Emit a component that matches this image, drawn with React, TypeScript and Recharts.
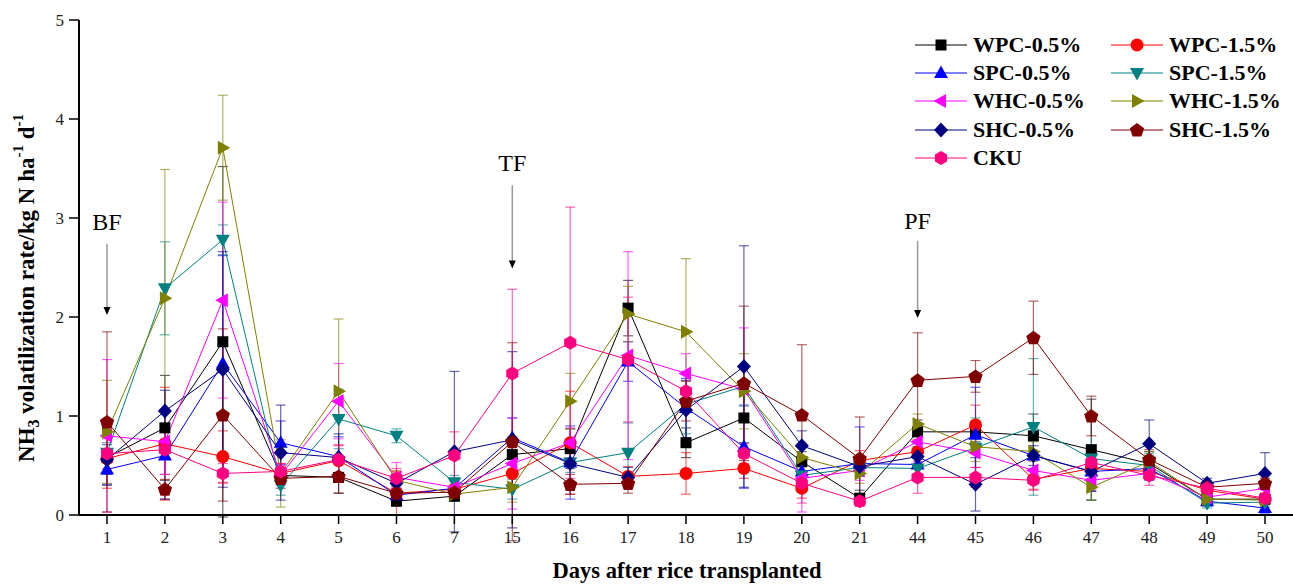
import React from 'react';
import { LineChart, Line, XAxis, YAxis, ErrorBar, Legend, ReferenceLine, ReferenceDot, Label } from 'recharts';

const FONT = '"Liberation Serif", "Times New Roman", serif';

const days = ['1', '2', '3', '4', '5', '6', '7', '15', '16', '17', '18', '19', '20', '21', '44', '45', '46', '47', '48', '49', '50'];

const wpc05 = [0.58, 0.88, 1.75, 0.40, 0.38, 0.14, 0.19, 0.61, 0.67, 2.09, 0.73, 0.98, 0.54, 0.17, 0.84, 0.84, 0.80, 0.66, 0.52, 0.16, 0.16];
const wpc05Err = [0.28, 0.53, 1.77, 0.06, 0.16, 0.05, 0.05, 0.18, 0.2, 0.28, 0.15, 0.25, 0.1, 0.08, 0.12, 0.1, 0.22, 0.51, 0.12, 0.05, 0.05];
const wpc15 = [0.57, 0.72, 0.59, 0.42, 0.55, 0.22, 0.26, 0.42, 0.73, 0.39, 0.42, 0.47, 0.27, 0.55, 0.64, 0.91, 0.36, 0.47, 0.44, 0.25, 0.16];
const wpc15Err = [0.3, 0.57, 0.26, 0.1, 0.15, 0.22, 0.05, 0.15, 0.52, 0.1, 0.21, 0.1, 0.1, 0.1, 0.12, 0.2, 0.1, 0.1, 0.08, 0.05, 0.05];
const spc05 = [0.46, 0.60, 1.53, 0.73, 0.59, 0.20, 0.27, 0.78, 0.53, 1.55, 1.08, 0.69, 0.44, 0.52, 0.51, 0.81, 0.60, 0.44, 0.47, 0.14, 0.07];
const spc05Err = [0.15, 0.44, 1.09, 0.22, 0.2, 0.05, 0.1, 0.2, 0.37, 0.2, 0.3, 0.42, 0.08, 0.37, 0.1, 0.48, 0.15, 0.2, 0.12, 0.05, 0.05];
const spc15 = [0.63, 2.29, 2.78, 0.30, 0.97, 0.80, 0.33, 0.26, 0.53, 0.63, 1.12, 1.30, 0.40, 0.48, 0.47, 0.68, 0.89, 0.57, 0.50, 0.12, 0.13];
const spc15Err = [0.1, 0.47, 0.15, 0.1, 0.3, 0.07, 0.07, 0.1, 0.1, 0.3, 0.3, 0.2, 0.1, 0.05, 0.1, 0.3, 0.69, 0.42, 0.12, 0.05, 0.05];
const whc05 = [0.80, 0.74, 2.17, 0.40, 1.15, 0.38, 0.28, 0.52, 0.73, 1.61, 1.43, 1.27, 0.37, 0.45, 0.74, 0.63, 0.45, 0.35, 0.42, 0.18, 0.27];
const whc05Err = [0.77, 0.33, 0.99, 0.1, 0.38, 0.15, 0.07, 0.46, 0.15, 1.05, 0.2, 0.62, 0.34, 0.1, 0.1, 0.15, 0.1, 0.1, 0.05, 0.05, 0.05];
const whc15 = [0.84, 2.19, 3.71, 0.42, 1.25, 0.35, 0.21, 0.28, 1.15, 2.03, 1.85, 1.25, 0.58, 0.42, 0.92, 0.69, 0.64, 0.28, 0.54, 0.16, 0.15];
const whc15Err = [0.52, 1.30, 0.53, 0.34, 0.73, 0.1, 0.05, 0.15, 0.28, 0.28, 0.74, 0.38, 0.1, 0.1, 0.1, 0.15, 0.1, 0.13, 0.1, 0.05, 0.05];
const shc05 = [0.56, 1.05, 1.47, 0.63, 0.58, 0.32, 0.64, 0.76, 0.52, 0.38, 1.06, 1.50, 0.70, 0.49, 0.59, 0.31, 0.60, 0.44, 0.72, 0.32, 0.42];
const shc05Err = [0.15, 0.21, 1.19, 0.48, 0.24, 0.05, 0.81, 0.89, 0.22, 0.1, 0.3, 1.22, 0.15, 0.1, 0.1, 0.27, 0.1, 0.2, 0.24, 0.05, 0.21];
const shc15 = [0.94, 0.26, 1.01, 0.37, 0.39, 0.22, 0.23, 0.74, 0.31, 0.32, 1.15, 1.33, 1.01, 0.57, 1.36, 1.40, 1.79, 1.00, 0.56, 0.28, 0.32];
const shc15Err = [0.91, 0.1, 0.87, 0.1, 0.17, 0.05, 0.05, 1.0, 0.1, 0.1, 0.2, 0.78, 0.71, 0.42, 0.48, 0.16, 0.37, 0.2, 0.1, 0.05, 0.05];
const cku = [0.62, 0.66, 0.42, 0.44, 0.56, 0.37, 0.60, 1.43, 1.74, 1.57, 1.25, 0.62, 0.32, 0.14, 0.38, 0.38, 0.35, 0.53, 0.40, 0.27, 0.17];
const ckuErr = [0.15, 0.25, 0.1, 0.08, 0.15, 0.1, 0.24, 0.85, 1.37, 0.63, 0.2, 0.1, 0.2, 0.05, 0.16, 0.1, 0.1, 0.1, 0.1, 0.05, 0.05];

const yTicks = [0, 1, 2, 3, 4, 5];

const annLabels = ['BF', 'TF', 'PF'];
const annDays = ['1', '15', '44'];
const annTextY = [2.88, 3.47, 2.89];
const annTop = [2.74, 3.33, 2.77];
const annTip = [2.02, 2.49, 1.99];

type Shape = 'square' | 'circle' | 'up' | 'down' | 'left' | 'right' | 'diamond' | 'pentagon' | 'hexagon';

const series: { key: string; name: string; color: string; shape: Shape; values: number[]; errs: number[] }[] = [
  { key: 'wpc05', name: 'WPC-0.5%', color: '#000000', shape: 'square', values: wpc05, errs: wpc05Err },
  { key: 'wpc15', name: 'WPC-1.5%', color: '#FF0000', shape: 'circle', values: wpc15, errs: wpc15Err },
  { key: 'spc05', name: 'SPC-0.5%', color: '#0000FF', shape: 'up', values: spc05, errs: spc05Err },
  { key: 'spc15', name: 'SPC-1.5%', color: '#008080', shape: 'down', values: spc15, errs: spc15Err },
  { key: 'whc05', name: 'WHC-0.5%', color: '#FF00FF', shape: 'left', values: whc05, errs: whc05Err },
  { key: 'whc15', name: 'WHC-1.5%', color: '#808000', shape: 'right', values: whc15, errs: whc15Err },
  { key: 'shc05', name: 'SHC-0.5%', color: '#000080', shape: 'diamond', values: shc05, errs: shc05Err },
  { key: 'shc15', name: 'SHC-1.5%', color: '#800000', shape: 'pentagon', values: shc15, errs: shc15Err },
  { key: 'cku', name: 'CKU', color: '#FF0080', shape: 'hexagon', values: cku, errs: ckuErr },
];

const data = days.map((d, i) => {
  const row: any = { day: d };
  series.forEach((s) => {
    row[s.key] = s.values[i];
    row[s.key + 'Err'] = s.errs[i];
  });
  return row;
});

const poly = (cx: number, cy: number, pts: number[][]) => pts.map(([x, y]) => `${cx + x},${cy + y}`).join(' ');

const regular = (cx: number, cy: number, n: number, r: number, rot: number) => {
  const pts: string[] = [];
  for (let k = 0; k < n; k++) {
    const a = rot + (k * 2 * Math.PI) / n;
    pts.push(`${cx + r * Math.cos(a)},${cy + r * Math.sin(a)}`);
  }
  return pts.join(' ');
};

const marker = (shape: Shape, cx: number, cy: number, color: string) => {
  switch (shape) {
    case 'square':
      return <rect x={cx - 5.5} y={cy - 5.5} width={11} height={11} fill={color} />;
    case 'circle':
      return <circle cx={cx} cy={cy} r={6.5} fill={color} />;
    case 'up':
      return <polygon points={poly(cx, cy, [[0, -7.5], [7, 5], [-7, 5]])} fill={color} />;
    case 'down':
      return <polygon points={poly(cx, cy, [[0, 7.5], [7, -5], [-7, -5]])} fill={color} />;
    case 'left':
      return <polygon points={poly(cx, cy, [[-7.5, 0], [5, -7], [5, 7]])} fill={color} />;
    case 'right':
      return <polygon points={poly(cx, cy, [[7.5, 0], [-5, -7], [-5, 7]])} fill={color} />;
    case 'diamond':
      return <polygon points={poly(cx, cy, [[0, -7.5], [7, 0], [0, 7.5], [-7, 0]])} fill={color} />;
    case 'pentagon':
      return <polygon points={regular(cx, cy + 0.5, 5, 7.5, -Math.PI / 2)} fill={color} />;
    case 'hexagon':
      return <polygon points={regular(cx, cy, 6, 7, -Math.PI / 2)} fill={color} />;
  }
  return null;
};

const makeDot = (shape: Shape, color: string) => (props: any) => {
  const { cx, cy, index } = props;
  if (cx == null || cy == null) return <g key={`e-${shape}-${index}`} />;
  return <g key={`d-${shape}-${index}`}>{marker(shape, cx, cy, color)}</g>;
};

const legendCols = [10, 206];
const legendRows = [15, 43, 71, 100, 128];

const renderLegend = () => (
  <svg width={390} height={150} style={{ overflow: 'visible', display: 'block' }}>
    {series.map((s, i) => {
      const col = i % 2;
      const row = Math.floor(i / 2);
      const x0 = legendCols[col];
      const y = legendRows[row];
      return (
        <g key={s.key}>
          <line x1={x0} y1={y} x2={x0 + 52} y2={y} stroke={s.color} strokeWidth={1} />
          {marker(s.shape, x0 + 26, y, s.color)}
          <text x={x0 + 58} y={y + 7} fontFamily={FONT} fontWeight="bold" fontSize={22} fill="#000">
            {s.name}
          </text>
        </g>
      );
    })}
  </svg>
);

const YTitle = () => (
  <text
    x={29}
    y={288}
    transform="rotate(-90, 29, 288)"
    textAnchor="middle"
    fontFamily={FONT}
    fontWeight="bold"
    fontSize={23}
    fill="#000"
    dominantBaseline="middle"
  >
    NH<tspan fontSize={16} dy={6}>3</tspan>
    <tspan dy={-6}> volatilization rate/kg N ha</tspan>
    <tspan fontSize={15} dy={-9}>-1</tspan>
    <tspan dy={9}> d</tspan>
    <tspan fontSize={15} dy={-9}>-1</tspan>
  </text>
);

const XTitle = () => (
  <text x={687} y={578} textAnchor="middle" fontFamily={FONT} fontWeight="bold" fontSize={22.5} fill="#000">
    Days after rice transplanted
  </text>
);

export default function App() {
  return (
    <div style={{ position: 'absolute', left: 0, top: 0, width: 1293, height: 585, background: '#fff' }}>
      <LineChart width={1293} height={585} data={data} margin={{ top: 20, right: 0, left: 0, bottom: 30 }}>
        <XAxis
          dataKey="day"
          type="category"
          interval={0}
          padding={{ left: 28, right: 28 }}
          height={40}
          tickSize={9}
          tickMargin={7}
          axisLine={{ stroke: '#000', strokeWidth: 2 }}
          tickLine={{ stroke: '#000', strokeWidth: 1.5 }}
          tick={{ fill: '#222', fontSize: 17, fontFamily: FONT }}
        >
          <Label content={<XTitle />} />
        </XAxis>
        <YAxis
          width={79}
          domain={[0, 5]}
          ticks={yTicks}
          type="number"
          allowDataOverflow
          tickSize={10}
          tickMargin={5}
          axisLine={{ stroke: '#000', strokeWidth: 2 }}
          tickLine={{ stroke: '#000', strokeWidth: 1.5 }}
          tick={{ fill: '#222', fontSize: 17, fontFamily: FONT }}
        >
          <Label content={<YTitle />} />
        </YAxis>
        <Legend
          verticalAlign="middle"
          align="center"
          layout="horizontal"
          content={renderLegend}
          wrapperStyle={{ left: 905, top: 30, width: 390, height: 150 }}
        />
        {annLabels.map((lab, i) => (
          <ReferenceLine
            key={'al' + lab}
            segment={[
              { x: annDays[i], y: annTop[i] },
              { x: annDays[i], y: annTip[i] + 0.06 },
            ]}
            stroke="#999"
            strokeWidth={1.5}
          />
        ))}
        {annLabels.map((lab, i) => (
          <ReferenceDot
            key={'ah' + lab}
            x={annDays[i]}
            y={annTip[i]}
            r={1}
            shape={(p: any) => (
              <polygon points={`${p.cx - 3.5},${p.cy - 8} ${p.cx + 3.5},${p.cy - 8} ${p.cx},${p.cy}`} fill="#000" />
            )}
          />
        ))}
        {annLabels.map((lab, i) => (
          <ReferenceDot
            key={'at' + lab}
            x={annDays[i]}
            y={annTextY[i]}
            r={1}
            shape={(p: any) => (
              <text x={p.cx} y={p.cy} textAnchor="middle" fontFamily={FONT} fontSize={24} fill="#000">
                {lab}
              </text>
            )}
          />
        ))}
        {series.map((s) => (
          <Line
            key={s.key}
            dataKey={s.key}
            name={s.name}
            stroke={s.color}
            strokeWidth={1}
            isAnimationActive={false}
            dot={makeDot(s.shape, s.color)}
            activeDot={false}
          >
            <ErrorBar dataKey={s.key + 'Err'} direction="y" width={5} stroke={s.color} strokeOpacity={0.6} strokeWidth={1.2} />
          </Line>
        ))}
      </LineChart>
    </div>
  );
}
